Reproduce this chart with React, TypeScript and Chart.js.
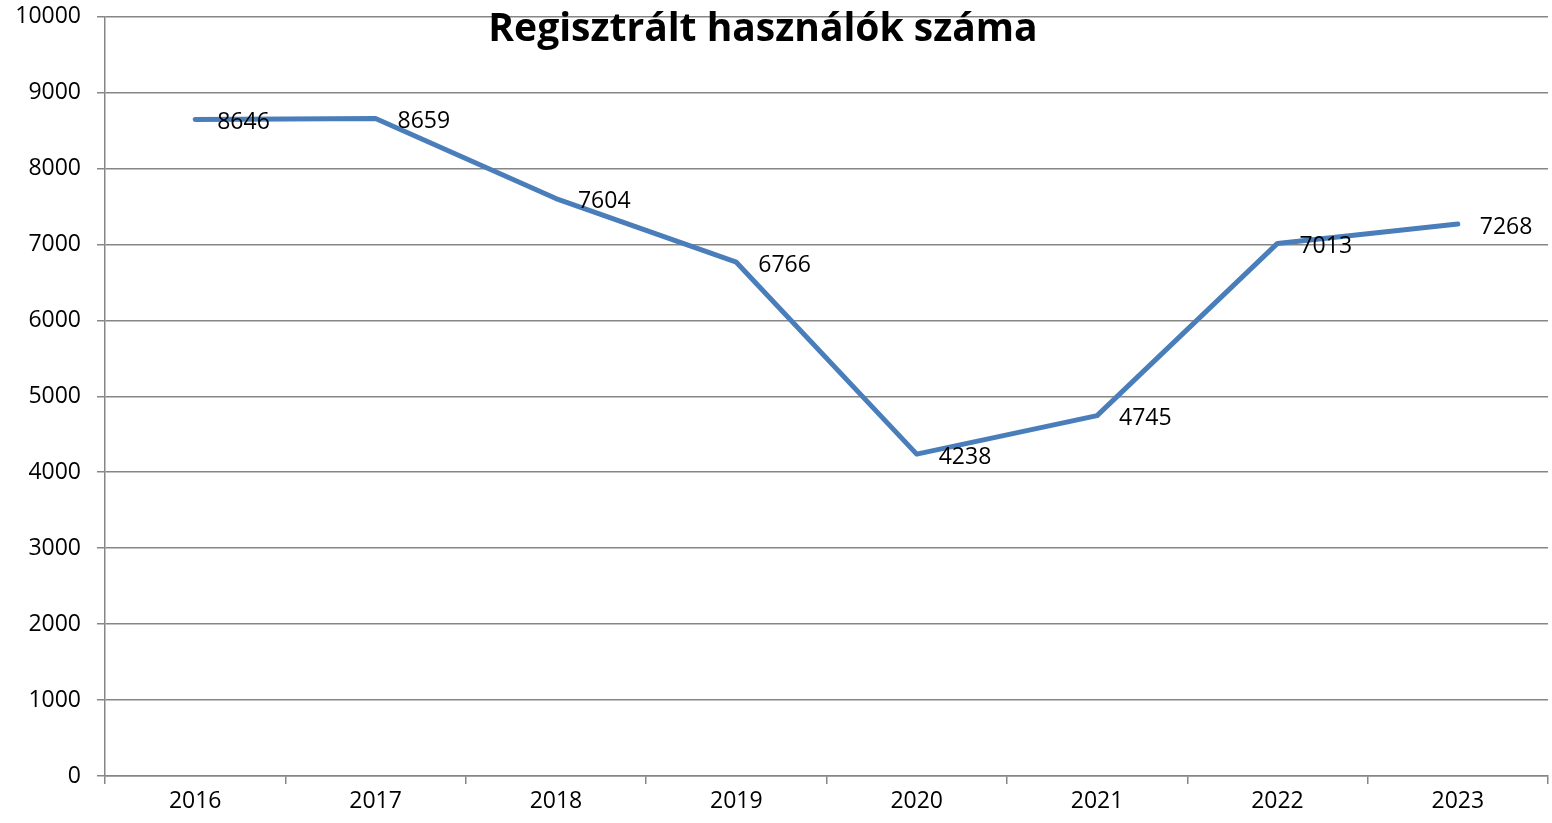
import React, { useEffect, useRef } from "react";
import { Chart, registerables } from "chart.js";

Chart.register(...registerables);

const title = "Regisztrált használók száma";
const years = ["2016", "2017", "2018", "2019", "2020", "2021", "2022", "2023"];
const users = [8646, 8659, 7604, 6766, 4238, 4745, 7013, 7268];

const FONT = "'Open Sans', 'Liberation Sans', sans-serif";

const overlayPlugin = {
  id: "overlay",
  afterDatasetsDraw(chart: any) {
    const ctx = chart.ctx;
    const meta = chart.getDatasetMeta(0);
    ctx.save();
    ctx.fillStyle = "#000";
    ctx.font = `23px ${FONT}`;
    ctx.textAlign = "left";
    ctx.textBaseline = "middle";
    meta.data.forEach((pt: any, i: number) => {
      ctx.fillText(String(users[i]), pt.x + 22, pt.y + 3);
    });
    ctx.font = `bold 39px ${FONT}`;
    ctx.textAlign = "center";
    ctx.fillText(title, 763, 30);
    ctx.restore();
  },
};

export default function App() {
  const ref = useRef<HTMLCanvasElement>(null);
  useEffect(() => {
    document.body.style.margin = "0";
    const chart = new Chart(ref.current!, {
      type: "line",
      data: {
        labels: years,
        datasets: [
          {
            data: users,
            borderColor: "#4A7EBB",
            borderWidth: 5,
            pointRadius: 0,
            tension: 0,
            borderCapStyle: "round",
            borderJoinStyle: "round",
          },
        ],
      },
      options: {
        animation: false,
        responsive: false,
        layout: { padding: { top: 15, right: 4, left: 0, bottom: 0 } },
        plugins: { legend: { display: false }, tooltip: { enabled: false }, title: { display: false } },
        scales: {
          x: {
            offset: true,
            grid: { offset: true, drawOnChartArea: false, drawTicks: true, tickLength: 8, color: "#868686", lineWidth: 1.5 },
            border: { color: "#868686", width: 1.5 },
            ticks: { color: "#000", font: { size: 23, family: FONT }, padding: 4 },
            afterFit: (s: any) => { s.height = 47; },
          },
          y: {
            min: 0,
            max: 10000,
            grid: { color: "#868686", lineWidth: 1.5, tickLength: 8 },
            border: { color: "#868686", width: 1.5 },
            ticks: { stepSize: 1000, color: "#000", font: { size: 23, family: FONT, lineHeight: 0.05 }, padding: 16, callback: (v: any) => String(v) },
            afterFit: (s: any) => { s.width = 105; },
          },
        },
      },
      plugins: [overlayPlugin],
    });
    return () => chart.destroy();
  }, []);
  return (
    <div style={{ position: "absolute", left: 0, top: 0, width: 1552, height: 823 }}>
      <canvas ref={ref} width={1552} height={823} style={{ width: 1552, height: 823 }} />
    </div>
  );
}
